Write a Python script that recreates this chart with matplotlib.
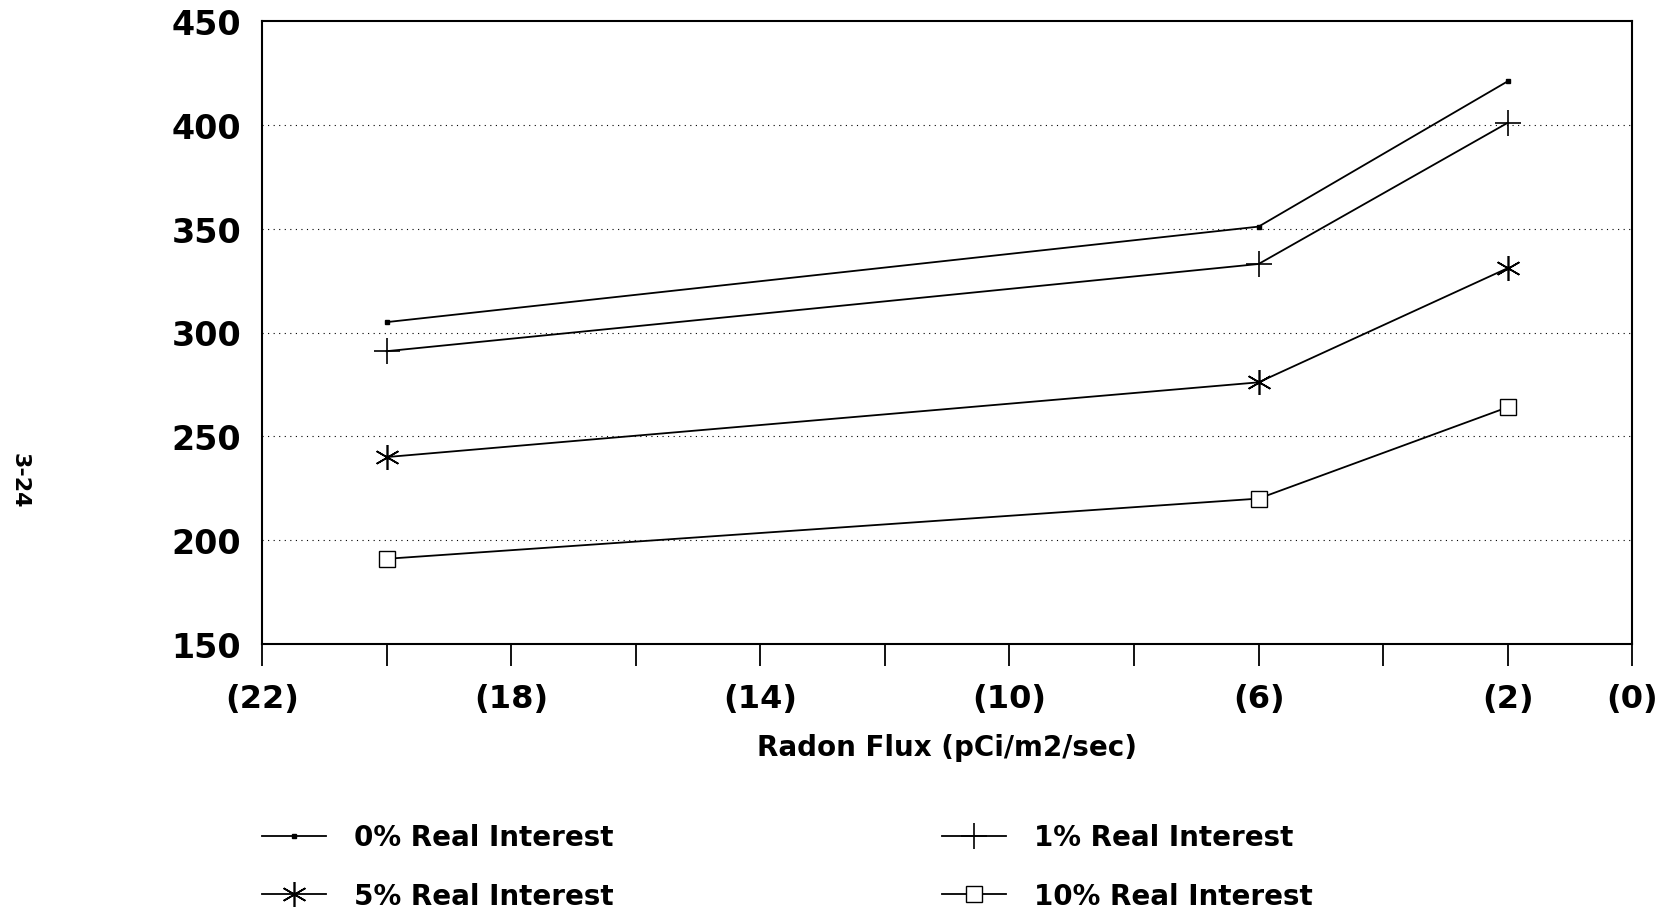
import matplotlib
matplotlib.use("Agg")
import matplotlib.pyplot as plt

flux = [20, 6, 2]
series_names = ["0% Real Interest", "1% Real Interest", "5% Real Interest", "10% Real Interest"]
vals_0 = [305, 351, 421]
vals_1 = [291, 333, 401]
vals_5 = [240, 276, 331]
vals_10 = [191, 220, 264]
x_tick_vals = [22, 18, 14, 10, 6, 2, 0]
x_tick_labels = ["(22)", "(18)", "(14)", "(10)", "(6)", "(2)", "(0)"]
y_ticks = [150, 200, 250, 300, 350, 400, 450]

plt.rcParams['font.family'] = ['DejaVu Sans']

fig = plt.figure(figsize=(16.69, 9.2), dpi=100)
ax = fig.add_axes([0.157, 0.299, 0.978 - 0.157, 0.976 - 0.299])

styles = [
    dict(marker='s', markersize=3.0, mfc='black', mec='black'),
    dict(marker='+', markersize=19, mew=1.2, mec='black'),
    dict(marker=(6, 2, 0), markersize=18, mew=1.2, mec='black'),
    dict(marker='s', markersize=11, mew=1.0, mfc='white', mec='black'),
]
handles = []
for vals, name, st in zip([vals_0, vals_1, vals_5, vals_10], series_names, styles):
    h, = ax.plot(flux, vals, color='black', lw=1.3, label=name, **st)
    handles.append(h)

ax.set_xlim(22, 0)
ax.set_ylim(150, 450)
ax.set_yticks(y_ticks)
ax.set_yticklabels([str(v) for v in y_ticks], fontsize=24, fontweight='bold')
ax.set_xticks(x_tick_vals)
ax.set_xticklabels(x_tick_labels, fontsize=23, fontweight='bold')
ax.set_xticks([20, 16, 12, 8, 4], minor=True)
ax.tick_params(axis='x', which='both', direction='out', length=16, width=1.3, pad=12)
ax.tick_params(axis='y', which='both', length=0, pad=15)
for g in [200, 250, 300, 350, 400]:
    ax.axhline(g, color='black', lw=0.8, ls=(0, (1, 4)), zorder=0)
for s in ax.spines.values():
    s.set_linewidth(1.5)

ax.set_xlabel("Radon Flux (pCi/m2/sec)", fontsize=20, fontweight='bold', labelpad=14)

leg = fig.legend([handles[0], handles[2], handles[1], handles[3]],
                 [series_names[0], series_names[2], series_names[1], series_names[3]],
                 ncol=2, loc='upper left', bbox_to_anchor=(0.157, 0.104),
                 frameon=False, prop={'size': 20, 'weight': 'bold'},
                 borderpad=0, borderaxespad=0,
                 handlelength=2.3, handletextpad=1.0, columnspacing=11.85,
                 labelspacing=1.1)

fig.text(0.0115, 0.477, "3-24", rotation=-90, fontsize=16, fontweight='bold',
         ha='center', va='center')

fig.savefig("out.png", dpi=100)
